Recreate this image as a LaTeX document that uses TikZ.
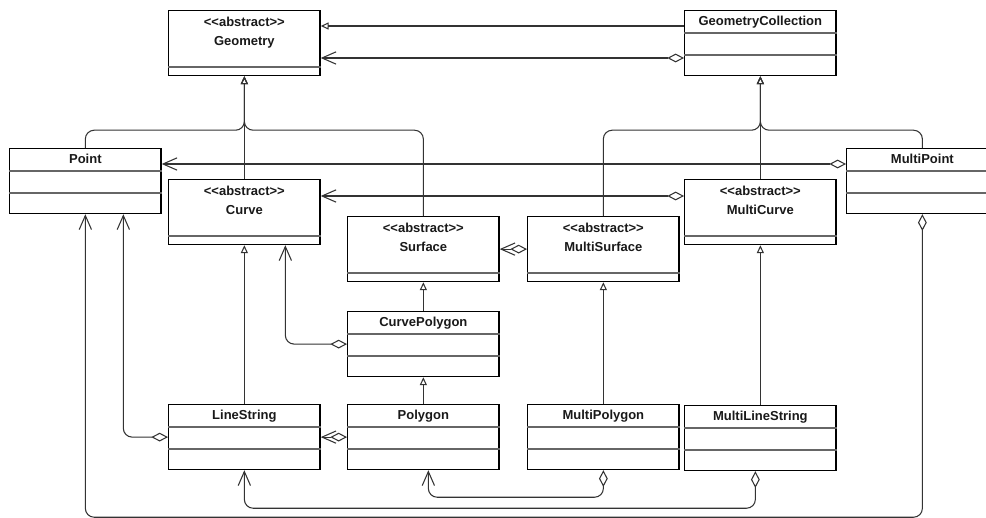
\documentclass[tikz,border=0pt]{standalone}
\usepackage{fontspec}
\setmainfont[Ligatures=TeXOff]{Liberation Sans}
\usepackage{tikz}
\usetikzlibrary{arrows.meta}

\tikzset{
  cls/.style={draw=black, line width=0.7pt, fill=white, minimum width=3.03cm, minimum height=1.3cm, inner sep=0pt, anchor=north west},
  sep/.style={draw=black!60, line width=0.6pt},
  ttl/.style={font=\fontsize{7.4}{9}\selectfont\bfseries, anchor=base, inner sep=0pt, text=black!90},
  conn/.style={draw=black!80, line width=0.6pt, rounded corners=5pt},
  gen/.style={conn, -{Triangle[open, length=4.5pt, width=4pt]}},
  agg/.style={conn, {Diamond[open, length=9.5pt, width=5pt]}-{Straight Barb[length=8pt, width=7pt]}},
}

\newcommand{\plainclass}[3]{
  \node[cls] (#1) at (#2) {};
  \draw[sep] ([yshift=-0.46cm]#1.north west) -- ([yshift=-0.46cm]#1.north east);
  \draw[sep] ([yshift=-0.9cm]#1.north west) -- ([yshift=-0.9cm]#1.north east);
  \node[ttl] (#1-name) at ([yshift=-0.314cm]#1.north) {#3};
}
\newcommand{\abstractclass}[3]{
  \node[cls] (#1) at (#2) {};
  \draw[sep] ([yshift=-1.14cm]#1.north west) -- ([yshift=-1.14cm]#1.north east);
  \node[ttl] (#1-st) at ([yshift=-0.33cm]#1.north) {<<abstract>>};
  \node[ttl] (#1-name) at ([yshift=-0.706cm]#1.north) {#3};
}

\begin{document}
\begin{tikzpicture}[x=0.02cm, y=-0.02cm]
  \useasboundingbox (0,0) rectangle (986,517);
  \fill[white] (0,0) rectangle (986,517);

  \abstractclass{geom}{168,10}{Geometry}
  \plainclass{gcoll}{684,10}{GeometryCollection}
  \plainclass{point}{9,148}{Point}
  \abstractclass{curve}{168,179}{Curve}
  \abstractclass{surface}{347,216}{Surface}
  \abstractclass{msurface}{527,216}{MultiSurface}
  \abstractclass{mcurve}{684,179}{MultiCurve}
  \plainclass{mpoint}{846,148}{MultiPoint}
  \plainclass{cpoly}{347,311}{CurvePolygon}
  \plainclass{lstring}{168,404}{LineString}
  \plainclass{polygon}{347,404}{Polygon}
  \plainclass{mpolygon}{527,404}{MultiPolygon}
  \plainclass{mlstring}{684,405}{MultiLineString}

  \draw[gen] ([yshift=-0.32cm]gcoll.north west) -- ([yshift=-0.32cm]geom.north east);
  \draw[agg] ([yshift=-0.96cm]gcoll.north west) -- ([yshift=-0.96cm]geom.north east);

  \draw[gen] (point.north) |- ([yshift=-1.08cm]geom.south) -- (geom.south);
  \draw[gen] (curve.north) -- (geom.south);
  \draw[gen] (surface.north) |- ([yshift=-1.08cm]geom.south) -- (geom.south);

  \draw[gen] (msurface.north) |- ([yshift=-1.08cm]gcoll.south) -- (gcoll.south);
  \draw[gen] (mcurve.north) -- (gcoll.south);
  \draw[gen] (mpoint.north) |- ([yshift=-1.08cm]gcoll.south) -- (gcoll.south);

  \draw[agg] ([yshift=-0.32cm]mpoint.north west) -- ([yshift=-0.32cm]point.north east);
  \draw[agg] ([yshift=-0.34cm]mcurve.north west) -- ([yshift=-0.34cm]curve.north east);
  \draw[agg] (msurface.west) -- (surface.east);

  \draw[gen] (cpoly.north) -- (surface.south);
  \draw[gen] (polygon.north) -- (cpoly.south);
  \draw[gen] (lstring.north) -- (curve.south);
  \draw[gen] (mpolygon.north) -- (msurface.south);
  \draw[gen] (mlstring.north) -- (mcurve.south);

  \draw[agg] (cpoly.west) -| ([xshift=0.82cm]curve.south);
  \draw[agg] (lstring.west) -| ([xshift=0.76cm]point.south);
  \draw[agg] (polygon.west) -- (lstring.east);

  \draw[agg] (mpolygon.south) -- ++(0,27) -| ([xshift=0.1cm]polygon.south);
  \draw[agg] ([xshift=-0.1cm]mlstring.south) -- ++(0,37) -| (lstring.south);
  \draw[agg] (mpoint.south) -- ++(0,303) -| (point.south);
\end{tikzpicture}
\end{document}
